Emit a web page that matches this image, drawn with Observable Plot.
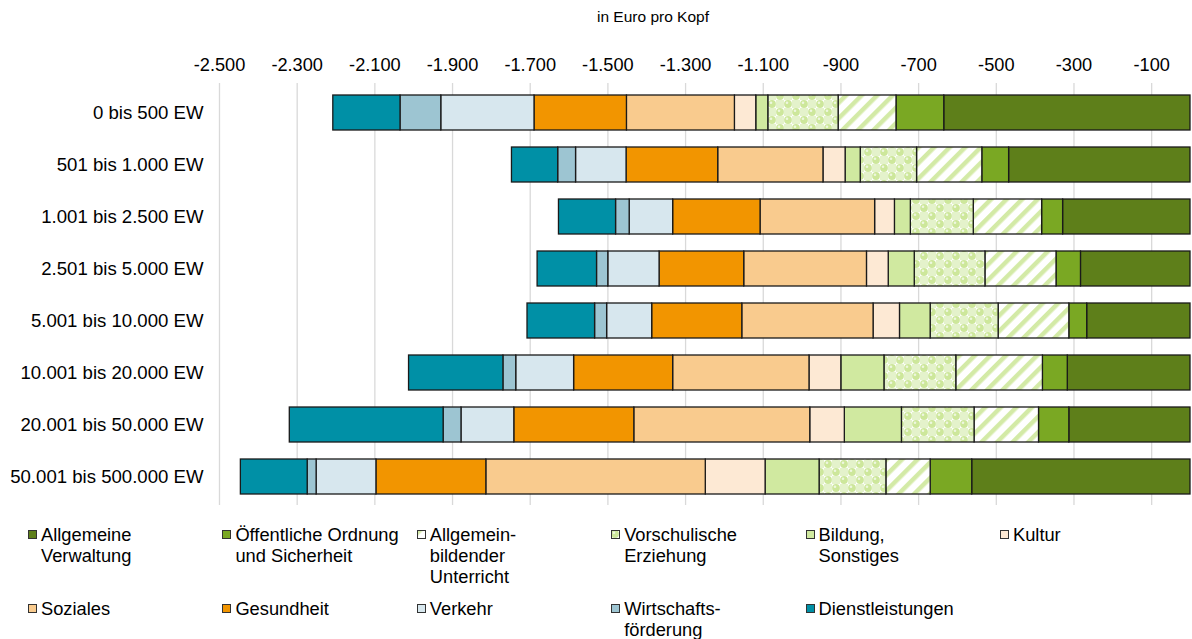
<!DOCTYPE html>
<html>
<head>
<meta charset="utf-8">
<script src="https://cdn.jsdelivr.net/npm/d3@7"></script>
<script src="https://cdn.jsdelivr.net/npm/@observablehq/plot@0.6"></script>
<style>
  body { margin: 0; background: #fff; font-family: "Liberation Sans", Arial, sans-serif; color: #000; }
  #wrap { position: relative; width: 1192px; height: 639px; overflow: hidden; }
  #title { position: absolute; top: 7px; left: 653px; transform: translateX(-50%); font-size: 15.5px; line-height: 20px; white-space: nowrap; }
  #chart { position: absolute; top: 36px; left: 0; }
  #legend { position: absolute; left: 28px; top: 524px; display: grid; grid-template-columns: repeat(6, 194.4px); grid-auto-rows: 74px; }
  .item { display: flex; align-items: flex-start; font-size: 18.3px; line-height: 21px; white-space: pre-line; }
  .sw { flex: none; width: 9px; height: 9px; margin-top: 6px; margin-right: 4px; }
</style>
</head>
<body>
<div id="wrap">
  <div id="title">in Euro pro Kopf</div>
  <div id="chart"></div>
  <div id="legend"></div>
</div>
<script>
// Municipality size classes (rows, top to bottom)
const groups = [
  "0 bis 500 EW",
  "501 bis 1.000 EW",
  "1.001 bis 2.500 EW",
  "2.501 bis 5.000 EW",
  "5.001 bis 10.000 EW",
  "10.001 bis 20.000 EW",
  "20.001 bis 50.000 EW",
  "50.001 bis 500.000 EW"
];

// Expenditure areas, stacked outward from zero
const series = [
  "Allgemeine Verwaltung",
  "Öffentliche Ordnung und Sicherheit",
  "Allgemeinbildender Unterricht",
  "Vorschulische Erziehung",
  "Bildung, Sonstiges",
  "Kultur",
  "Soziales",
  "Gesundheit",
  "Verkehr",
  "Wirtschaftsförderung",
  "Dienstleistungen"
];

// Legend labels with their line breaks
const legendLabels = [
  "Allgemeine\nVerwaltung",
  "Öffentliche Ordnung\nund Sicherheit",
  "Allgemein-\nbildender\nUnterricht",
  "Vorschulische\nErziehung",
  "Bildung,\nSonstiges",
  "Kultur",
  "Soziales",
  "Gesundheit",
  "Verkehr",
  "Wirtschafts-\nförderung",
  "Dienstleistungen"
];

// Expenditure in euro per inhabitant, one value per size class
const allgemeineVerwaltung = [-634, -467, -328, -282, -266, -316, -312, -562];
const oeffentlicheOrdnung  = [-123,  -69,  -54,  -63,  -46,  -64,  -78, -107];
const allgemeinbildend     = [-149, -168, -176, -183, -182, -223, -166, -114];
const vorschulisch         = [-181, -145, -162, -182, -175, -185, -187, -172];
const bildungSonstiges     = [ -31,  -39,  -41,  -67,  -79, -111, -147, -139];
const kultur               = [ -55,  -57,  -51,  -56,  -68,  -82,  -89, -154];
const soziales             = [-278, -271, -295, -316, -338, -351, -453, -565];
const gesundheit           = [-238, -236, -225, -218, -232, -255, -309, -283];
const verkehr              = [-240, -130, -112, -132, -116, -149, -136, -154];
const wirtschaft           = [-105,  -46,  -35,  -29,  -31,  -33,  -46,  -23];
const dienstleistungen     = [-173, -119, -147, -153, -174, -243, -396, -172];

const seriesValues = [
  allgemeineVerwaltung, oeffentlicheOrdnung, allgemeinbildend, vorschulisch,
  bildungSonstiges, kultur, soziales, gesundheit, verkehr, wirtschaft, dienstleistungen
];

// Tick values of the top axis
const xTicks = [-2500, -2300, -2100, -1900, -1700, -1500, -1300, -1100, -900, -700, -500, -300, -100];

const fills = [
  "#5e7f1a", "#7aa823", "url(#p-stripes)", "url(#p-dots)", "#d0e9a0", "#fde9d4",
  "#f9cb8e", "#f29500", "#d7e7ee", "#9dc5d2", "#0090a6"
];

const rows = [];
seriesValues.forEach((vals, i) => vals.forEach((v, j) => rows.push({group: groups[j], series: series[i], value: v})));

const de = d3.formatLocale({decimal: ",", thousands: ".", grouping: [3], currency: ["", " €"], minus: "-"});
const fmt = de.format(",d");

const chart = Plot.plot({
  width: 1192,
  height: 488,
  marginLeft: 219,
  marginRight: 2,
  marginTop: 47,
  marginBottom: 19,
  style: {fontFamily: "'Liberation Sans', Arial, sans-serif", fontSize: "18px", color: "#000", background: "transparent", overflow: "visible"},
  x: {domain: [-2500, 0], label: null},
  y: {domain: groups, paddingInner: 0.336, paddingOuter: 0.17, label: null},
  color: {domain: series, range: fills},
  marks: [
    Plot.ruleX(xTicks, {stroke: "#d9d9d9", strokeWidth: 1.3}),
    Plot.barX(rows, {x: "value", y: "group", fill: "series", stroke: "#1a1a1a", strokeWidth: 1.3}),
    Plot.axisX({anchor: "top", ticks: xTicks, tickSize: 0, tickPadding: 13, tickFormat: fmt, label: null, fontSize: 18.2}),
    Plot.axisY({tickSize: 0, tickPadding: 16, label: null, fontSize: 18.6})
  ]
});

// Fill patterns for the two textured areas
const defs = d3.select(chart).insert("defs", ":first-child");
const stripes = defs.append("pattern")
  .attr("id", "p-stripes").attr("patternUnits", "userSpaceOnUse")
  .attr("width", 11).attr("height", 11).attr("patternTransform", "rotate(45)");
stripes.append("rect").attr("width", 11).attr("height", 11).attr("fill", "#fff");
stripes.append("rect").attr("width", 4.5).attr("height", 11).attr("fill", "#d3eaa6");

const dots = defs.append("pattern")
  .attr("id", "p-dots").attr("patternUnits", "userSpaceOnUse")
  .attr("width", 16).attr("height", 16);
dots.append("rect").attr("width", 16).attr("height", 16).attr("fill", "#fff");
dots.append("rect").attr("x", 8).attr("y", 0).attr("width", 8).attr("height", 8).attr("fill", "#e4f2cb");
dots.append("rect").attr("x", 0).attr("y", 8).attr("width", 8).attr("height", 8).attr("fill", "#e4f2cb");
dots.append("circle").attr("cx", 4).attr("cy", 4).attr("r", 3.9).attr("fill", "#cde79b");
dots.append("circle").attr("cx", 12).attr("cy", 12).attr("r", 3.9).attr("fill", "#cde79b");
dots.append("circle").attr("cx", 3).attr("cy", 2.8).attr("r", 1.3).attr("fill", "#eef7df");
dots.append("circle").attr("cx", 11).attr("cy", 10.8).attr("r", 1.3).attr("fill", "#eef7df");

document.getElementById("chart").appendChild(chart);

// Legend in the order of the series
const legend = d3.select("#legend");
series.forEach((s, i) => {
  const item = legend.append("div").attr("class", "item");
  const sw = item.append("svg").attr("class", "sw").attr("width", 9).attr("height", 9);
  sw.append("rect").attr("x", 0.5).attr("y", 0.5).attr("width", 8).attr("height", 8)
    .attr("fill", fills[i]).attr("stroke", "#333").attr("stroke-width", 1);
  item.append("span").text(legendLabels[i]);
});
</script>
</body>
</html>
